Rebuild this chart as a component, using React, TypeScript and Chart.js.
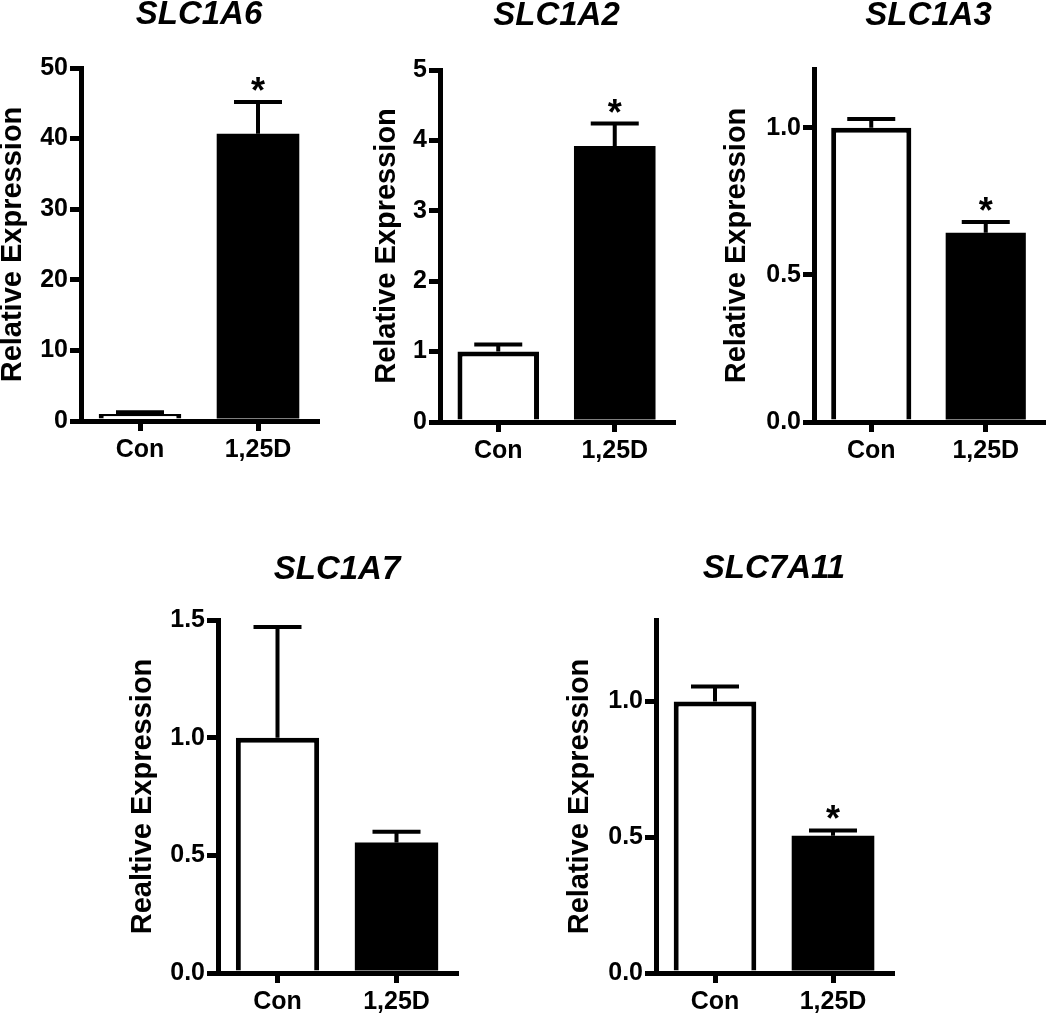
import React, { useEffect, useRef } from "react";
import { Chart, registerables } from "chart.js";

Chart.register(...registerables);

// ---------------- data ----------------
const categories = ["Con", "1,25D"];
const panelTitles = ["SLC1A6", "SLC1A2", "SLC1A3", "SLC1A7", "SLC7A11"];
const yAxisTitles = [
  "Relative Expression",
  "Relative Expression",
  "Relative Expression",
  "Realtive Expression",
  "Relative Expression",
];

const slc1a6Means = [1.0, 40.7];
const slc1a6Errors = [0.25, 4.5];
const slc1a2Means = [1.0, 3.92];
const slc1a2Errors = [0.1, 0.32];
const slc1a3Means = [1.0, 0.643];
const slc1a3Errors = [0.03, 0.037];
const slc1a7Means = [1.0, 0.555];
const slc1a7Errors = [0.47, 0.045];
const slc7a11Means = [1.0, 0.505];
const slc7a11Errors = [0.055, 0.02];

const panelMeans = [slc1a6Means, slc1a2Means, slc1a3Means, slc1a7Means, slc7a11Means];
const panelErrors = [slc1a6Errors, slc1a2Errors, slc1a3Errors, slc1a7Errors, slc7a11Errors];
const panelSignificant = [
  [false, true],
  [false, true],
  [false, true],
  [false, false],
  [false, true],
];

const yMaxValues = [50, 5, 1.2, 1.5, 1.3];
const yStepValues = [10, 1, 0.5, 0.5, 0.5];
const yDecimals = [0, 0, 1, 1, 1];

// ---------------- layout (page pixels) ----------------
const panelLayouts = [
  { canvasLeft: -2, canvasTop: 0, axisX: 81, right: 317, plotTop: 68, plotBottom: 421 },
  { canvasLeft: 372, canvasTop: 1, axisX: 440, right: 673, plotTop: 70, plotBottom: 422 },
  { canvasLeft: 722, canvasTop: 1, axisX: 814, right: 1043, plotTop: 69, plotBottom: 422 },
  { canvasLeft: 128, canvasTop: 555, axisX: 218, right: 456, plotTop: 620, plotBottom: 973 },
  { canvasLeft: 565, canvasTop: 554, axisX: 656, right: 892, plotTop: 620, plotBottom: 973 },
];

const FONT = "'Liberation Sans', Arial, Helvetica, sans-serif";
const RIGHT_PAD = 12;
const X_AXIS_H = 60;
const TITLE_SIZE = 33;
const TITLE_LH = 24;
const TITLE_PAD_TOP = 3;
const CAP_W = 48;

Chart.defaults.color = "#000";
Chart.defaults.font.family = FONT;

const errorBarPlugin = {
  id: "errorBars",
  afterDatasetsDraw(chart: any, _args: any, opts: any) {
    const { ctx } = chart;
    const meta = chart.getDatasetMeta(0);
    const yScale = chart.scales.y;
    const values = chart.data.datasets[0].data as number[];
    const errs: number[] = opts.errors || [];
    const sig: boolean[] = opts.significant || [];
    meta.data.forEach((bar: any, i: number) => {
      const v = values[i];
      const base = yScale.getPixelForValue(v);
      const top = yScale.getPixelForValue(v + errs[i]);
      const x = bar.x;
      ctx.save();
      ctx.strokeStyle = "#000";
      ctx.lineWidth = 4;
      ctx.lineCap = "butt";
      ctx.beginPath();
      ctx.moveTo(x, base);
      ctx.lineTo(x, top);
      ctx.moveTo(x - CAP_W / 2, top);
      ctx.lineTo(x + CAP_W / 2, top);
      ctx.stroke();
      if (sig[i]) {
        ctx.fillStyle = "#000";
        ctx.font = `bold 36px ${FONT}`;
        ctx.textAlign = "center";
        ctx.textBaseline = "alphabetic";
        ctx.fillText("*", x, top + 1);
      }
      ctx.restore();
    });
  },
};

function Panel({ idx }: { idx: number }) {
  const ref = useRef<HTMLCanvasElement | null>(null);
  const L = panelLayouts[idx];
  const width = L.right - L.canvasLeft + RIGHT_PAD;
  const height = L.plotBottom - L.canvasTop + X_AXIS_H;
  const yW = L.axisX - L.canvasLeft;
  const titlePadBottom = L.plotTop - L.canvasTop - TITLE_LH - TITLE_PAD_TOP;

  useEffect(() => {
    if (!ref.current) return;
    const dec = yDecimals[idx];
    const chart = new Chart(ref.current, {
      type: "bar",
      data: {
        labels: categories,
        datasets: [
          {
            data: panelMeans[idx],
            backgroundColor: ["#ffffff", "#000000"],
            borderColor: "#000000",
            borderWidth: [5, 0],
            barPercentage: 0.7,
            categoryPercentage: 1,
          },
        ],
      },
      options: {
        animation: false,
        responsive: false,
        events: [],
        layout: { padding: { left: 0, right: RIGHT_PAD, top: 0, bottom: 0 } },
        plugins: {
          legend: { display: false },
          tooltip: { enabled: false },
          title: {
            display: true,
            text: panelTitles[idx],
            fullSize: false,
            color: "#000",
            font: {
              family: FONT,
              size: TITLE_SIZE,
              weight: "bold",
              style: "italic",
              lineHeight: TITLE_LH / TITLE_SIZE,
            },
            padding: { top: TITLE_PAD_TOP, bottom: titlePadBottom },
          },
          errorBars: { errors: panelErrors[idx], significant: panelSignificant[idx] },
        } as any,
        scales: {
          x: {
            z: 1,
            offset: true,
            grid: {
              offset: false,
              drawOnChartArea: false,
              drawTicks: true,
              tickLength: 10,
              lineWidth: 5,
              color: "#000",
            },
            border: { display: true, width: 5, color: "#000" },
            ticks: {
              color: "#000",
              padding: 4,
              font: { family: FONT, size: 25, weight: "bold" },
              maxRotation: 0,
            },
            afterFit: (s: any) => {
              s.height = X_AXIS_H;
            },
          },
          y: {
            z: 1,
            min: 0,
            max: yMaxValues[idx],
            grid: {
              drawOnChartArea: false,
              drawTicks: true,
              tickLength: 11,
              lineWidth: 5,
              color: "#000",
            },
            border: { display: true, width: 5, color: "#000" },
            ticks: {
              stepSize: yStepValues[idx],
              includeBounds: false,
              color: "#000",
              padding: 2,
              font: { family: FONT, size: 25, weight: "bold" },
              callback: (v: any) => Number(v).toFixed(dec),
            },
            title: {
              display: true,
              text: yAxisTitles[idx],
              color: "#000",
              font: { family: FONT, size: 29, weight: "bold", lineHeight: 1 },
              padding: { top: 0, bottom: 0 },
            },
            afterFit: (s: any) => {
              s.width = yW;
            },
          },
        },
      },
      plugins: [errorBarPlugin],
    } as any);
    return () => chart.destroy();
  }, [idx]);

  return (
    <canvas
      ref={ref}
      width={width}
      height={height}
      style={{ position: "absolute", left: L.canvasLeft, top: L.canvasTop, width, height }}
    />
  );
}

export default function App() {
  return (
    <div
      style={{
        position: "absolute",
        left: 0,
        top: 0,
        width: 1050,
        height: 1014,
        overflow: "hidden",
        background: "#fff",
      }}
    >
      {panelTitles.map((_, i) => (
        <Panel key={i} idx={i} />
      ))}
    </div>
  );
}
